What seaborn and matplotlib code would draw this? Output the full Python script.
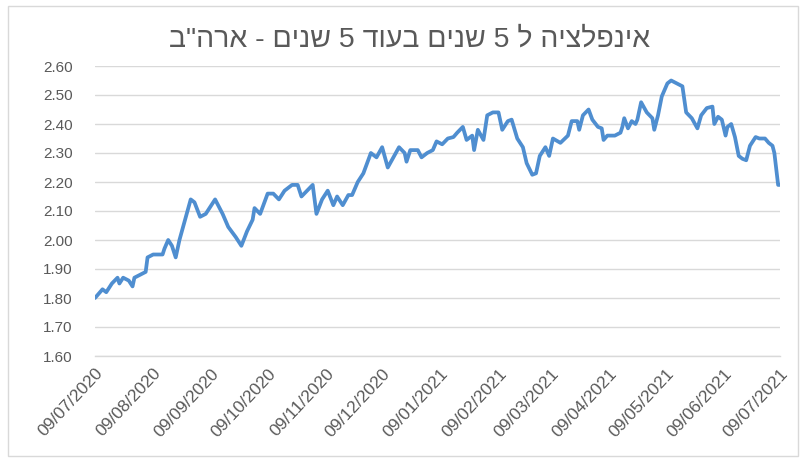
import matplotlib
matplotlib.use("Agg")
import matplotlib.pyplot as plt
import matplotlib.dates as mdates
from matplotlib import font_manager
from matplotlib.patches import Rectangle
import numpy as np
import pandas as pd
import seaborn as sns

# 5y5y forward inflation expectation, US (percent)
start_date = "2020-07-09"
day_offsets = [
    0, 4, 6, 9, 12, 13, 15, 18, 20, 21, 24, 27, 28, 31, 34, 36, 37, 39, 41, 43,
    45, 48, 51, 53, 56, 59, 61, 64, 68, 71, 75, 78, 81, 84, 85, 88, 92, 95, 98, 101,
    105, 108, 110, 113, 116, 118, 121, 124, 127, 129, 132, 135, 137, 140, 143, 147, 150, 153, 156, 159,
    162, 165, 166, 168, 172, 174, 177, 180, 182, 185, 188, 191, 193, 196, 198, 201, 202, 204, 207, 209,
    212, 215, 217, 220, 222, 225, 228, 230, 233, 235, 237, 240, 242, 244, 248, 252, 254, 257, 258, 260,
    263, 265, 268, 270, 271, 273, 277, 280, 281, 282, 284, 286, 288, 289, 291, 294, 297, 298, 300, 302,
    305, 307, 310, 313, 314, 315, 318, 321, 323, 326, 329, 330, 332, 334, 336, 337, 339, 341, 343, 345,
    347, 349, 352, 354, 357, 359, 361, 362, 364, 365,
]
rates = [
    1.80, 1.83, 1.82, 1.85, 1.87, 1.85, 1.87, 1.86, 1.84, 1.87, 1.88, 1.89, 1.94, 1.95, 1.95, 1.95, 1.97, 2.00, 1.98, 1.94,
    2.00, 2.07, 2.14, 2.13, 2.08, 2.09, 2.11, 2.14, 2.09, 2.045, 2.01, 1.98, 2.03, 2.07, 2.11, 2.09, 2.16, 2.16, 2.14, 2.17,
    2.19, 2.19, 2.15, 2.17, 2.19, 2.09, 2.14, 2.17, 2.12, 2.15, 2.12, 2.155, 2.155, 2.20, 2.23, 2.30, 2.285, 2.32, 2.25, 2.285,
    2.32, 2.30, 2.27, 2.31, 2.31, 2.285, 2.30, 2.31, 2.34, 2.33, 2.35, 2.355, 2.37, 2.39, 2.345, 2.36, 2.31, 2.38, 2.345, 2.43,
    2.44, 2.44, 2.38, 2.41, 2.415, 2.35, 2.32, 2.265, 2.225, 2.23, 2.29, 2.32, 2.29, 2.35, 2.335, 2.36, 2.41, 2.41, 2.38, 2.43,
    2.45, 2.415, 2.39, 2.385, 2.345, 2.36, 2.36, 2.37, 2.39, 2.42, 2.385, 2.41, 2.40, 2.415, 2.475, 2.44, 2.42, 2.38, 2.43, 2.495,
    2.54, 2.55, 2.54, 2.53, 2.485, 2.44, 2.42, 2.385, 2.43, 2.455, 2.46, 2.40, 2.425, 2.415, 2.36, 2.39, 2.40, 2.355, 2.29, 2.28,
    2.275, 2.325, 2.355, 2.35, 2.35, 2.335, 2.325, 2.30, 2.19, 2.19,
]
y_ticks = [1.60, 1.70, 1.80, 1.90, 2.00, 2.10, 2.20, 2.30, 2.40, 2.50, 2.60]
title_text = "אינפלציה ל 5 שנים בעוד 5 שנים - ארה\"ב"

dates = pd.Timestamp(start_date) + pd.to_timedelta(day_offsets, unit="D")
df = pd.DataFrame({"date": dates, "rate": rates})
month_ticks = pd.date_range(start_date, periods=13, freq=pd.DateOffset(months=1))

sns.set_style("white")
installed = {f.name for f in font_manager.fontManager.ttflist}
narrow = "Liberation Sans Narrow" if "Liberation Sans Narrow" in installed else "Liberation Sans"
plt.rcParams["font.family"] = ["Liberation Sans", "DejaVu Sans"]

text_grey = "#595959"
grid_grey = "#D9D9D9"
line_blue = "#4F8ED0"

fig = plt.figure(figsize=(8.06, 4.62), dpi=100)
fig.patch.set_facecolor("white")
fig.patches.append(Rectangle((8 / 806, 6 / 462), 790 / 806, 450 / 462, transform=fig.transFigure,
                             fill=False, edgecolor="#D9D9D9", linewidth=1.0))

ax = fig.add_axes([95 / 806, (462 - 356) / 462, 685 / 806, 290 / 462])
sns.lineplot(data=df, x="date", y="rate", ax=ax, color=line_blue, linewidth=2.7)

ax.set_ylim(1.60, 2.60)
ax.set_yticks(y_ticks)
ax.set_yticklabels([f"{v:.2f}" for v in y_ticks], fontsize=11, color=text_grey, family=[narrow, "DejaVu Sans"])
ax.set_xlim(month_ticks[0], month_ticks[-1])
ax.set_xticks(month_ticks)
ax.xaxis.set_major_formatter(mdates.DateFormatter("%d/%m/%Y"))
for lbl in ax.get_xticklabels():
    lbl.set_rotation(47)
    lbl.set_ha("right")
    lbl.set_rotation_mode("anchor")
    lbl.set_fontsize(12.5)
    lbl.set_color(text_grey)
    lbl.set_family([narrow, "DejaVu Sans"])

ax.grid(axis="y", color=grid_grey, linewidth=1.0)
ax.set_axisbelow(True)
for side in ["top", "right", "left"]:
    ax.spines[side].set_visible(False)
ax.spines["bottom"].set_color(grid_grey)
ax.spines["bottom"].set_linewidth(1.0)
ax.tick_params(axis="x", length=4, color=grid_grey, pad=3)
ax.tick_params(axis="y", length=0, pad=16)
ax.set_xlabel("")
ax.set_ylabel("")

# matplotlib lays glyphs out left to right, so the Hebrew title is given in visual order
fig.text(0.508, 1 - 40 / 462, title_text[::-1], ha="center", va="center",
         fontsize=20.5, color=text_grey, family=["Liberation Sans", "DejaVu Sans"])

fig.savefig("out.png", dpi=100, facecolor="white")
